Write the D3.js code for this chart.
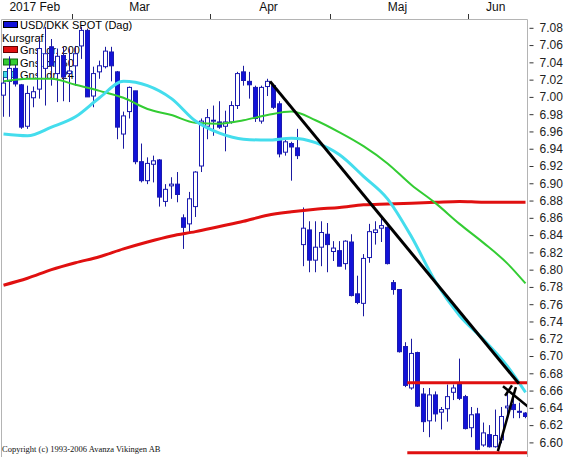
<!DOCTYPE html>
<html>
<head>
<meta charset="utf-8">
<script src="https://cdn.jsdelivr.net/npm/d3@7"></script>
<style>
  body { margin: 0; background: #fff; }
  svg { display: block; }
</style>
</head>
<body>
<div id="chart"></div>
<script>
// months shown on the top axis and how many trading days each has on the chart
const monthNames = ["2017 Feb", "Mar", "Apr", "Maj", "Jun"];
const monthDays = [12, 23, 20, 23, 10];

// daily candles, USD/DKK
const opens = [7.002, 7.018, 7.033, 7.014, 6.966, 6.999, 7.009, 7.033, 7.058, 7.027, 7.048, 7.027,
  7.036, 7.059, 7.077, 7.001, 7.029, 7.035, 7.052, 7.029, 6.957, 6.983, 7.007, 6.925, 6.903, 6.922,
  6.927, 6.879, 6.897, 6.899, 6.860, 6.853, 6.873, 6.920, 6.966,
  6.972, 6.971, 6.966, 6.971, 6.990, 7.029, 7.018, 7.011, 6.972, 7.012, 7.013, 6.992, 6.936, 6.946,
  6.941, 6.829, 6.846, 6.811, 6.826, 6.841,
  6.821, 6.822, 6.807, 6.832, 6.772, 6.761, 6.814, 6.843, 6.848, 6.849, 6.785, 6.777, 6.711, 6.663,
  6.704, 6.656, 6.625, 6.655, 6.635, 6.639, 6.658, 6.667, 6.653,
  6.617, 6.633, 6.597, 6.609, 6.595, 6.603, 6.640, 6.644, 6.636, 6.634];
const highs = [7.023, 7.047, 7.037, 7.015, 7.013, 7.012, 7.070, 7.081, 7.067, 7.056, 7.058, 7.056,
  7.059, 7.081, 7.079, 7.035, 7.042, 7.058, 7.058, 7.030, 6.983, 7.012, 7.007, 6.946, 6.930, 6.932,
  6.928, 6.899, 6.907, 6.913, 6.864, 6.890, 6.914, 6.975, 6.986,
  6.990, 6.995, 6.984, 6.995, 7.029, 7.036, 7.029, 7.013, 7.013, 7.021, 7.015, 6.995, 6.951, 6.948,
  6.963, 6.872, 6.856, 6.856, 6.856, 6.854,
  6.833, 6.833, 6.834, 6.841, 6.793, 6.818, 6.853, 6.856, 6.861, 6.850, 6.788, 6.777, 6.716, 6.720,
  6.705, 6.663, 6.663, 6.659, 6.641, 6.667, 6.667, 6.697, 6.655,
  6.641, 6.640, 6.623, 6.620, 6.638, 6.641, 6.661, 6.653, 6.646, 6.635];
const lows = [6.977, 6.977, 7.012, 6.963, 6.963, 6.988, 6.998, 6.990, 7.013, 6.994, 6.995, 6.994,
  7.013, 7.044, 7.000, 6.988, 7.021, 7.033, 7.018, 6.951, 6.940, 6.975, 6.922, 6.901, 6.899, 6.901,
  6.873, 6.873, 6.882, 6.878, 6.824, 6.843, 6.861, 6.913, 6.951,
  6.955, 6.963, 6.937, 6.969, 6.986, 7.013, 6.998, 6.971, 6.969, 7.001, 6.986, 6.930, 6.932, 6.903,
  6.928, 6.804, 6.797, 6.797, 6.804, 6.797,
  6.810, 6.804, 6.800, 6.769, 6.760, 6.746, 6.808, 6.829, 6.832, 6.806, 6.771, 6.704, 6.664, 6.661,
  6.641, 6.612, 6.606, 6.624, 6.615, 6.624, 6.649, 6.649, 6.615,
  6.606, 6.591, 6.595, 6.594, 6.594, 6.599, 6.632, 6.628, 6.628, 6.628];
const closes = [7.016, 7.033, 7.015, 6.965, 7.004, 7.006, 7.056, 7.050, 7.036, 7.047, 7.023, 7.030,
  7.050, 7.077, 7.000, 7.027, 7.036, 7.053, 7.036, 6.965, 6.978, 7.011, 6.925, 6.903, 6.923, 6.926,
  6.884, 6.893, 6.899, 6.887, 6.849, 6.882, 6.913, 6.972, 6.976,
  6.973, 6.965, 6.971, 6.990, 7.027, 7.019, 7.014, 6.975, 7.011, 7.018, 6.988, 6.934, 6.948, 6.942,
  6.932, 6.848, 6.811, 6.826, 6.843, 6.829,
  6.825, 6.804, 6.833, 6.770, 6.762, 6.813, 6.844, 6.846, 6.851, 6.807, 6.777, 6.705, 6.666, 6.703,
  6.642, 6.624, 6.655, 6.633, 6.638, 6.653, 6.663, 6.651, 6.616,
  6.632, 6.592, 6.611, 6.595, 6.608, 6.630, 6.642, 6.638, 6.635, 6.630];

// moving averages, read every 4th trading day
const maDays = [0, 4, 8, 12, 16, 20, 24, 28, 32, 36, 40, 44, 48, 52, 56, 60, 64, 68, 72, 76, 80, 84, 87];
const ma200 = [6.782, 6.790, 6.800, 6.808, 6.815, 6.824, 6.832, 6.839, 6.844, 6.850, 6.856, 6.863,
  6.867, 6.870, 6.872, 6.875, 6.876, 6.877, 6.878, 6.879, 6.878, 6.878, 6.878];
const ma50 = [7.018, 7.021, 7.021, 7.014, 7.007, 6.999, 6.986, 6.979, 6.970, 6.969, 6.973, 6.979,
  6.983, 6.973, 6.959, 6.943, 6.923, 6.898, 6.877, 6.853, 6.831, 6.807, 6.784];
const ma24 = [6.957, 6.955, 6.965, 6.977, 6.999, 7.018, 7.013, 6.998, 6.972, 6.958, 6.951, 6.950,
  6.952, 6.947, 6.933, 6.908, 6.882, 6.838, 6.786, 6.747, 6.719, 6.688, 6.658];

// drawn trend lines: [day, price] start and end
const trendStart = [[44.42, 7.018], [82.4, 6.590], [83.25, 6.665], [83.6, 6.654]];
const trendEnd = [[85.9, 6.668], [85.4, 6.664], [87.5, 6.641], [84.75, 6.666]];
// horizontal support / resistance
const levels = [6.669, 6.588];
const levelFrom = 67.3;

const yTicks = [7.08, 7.06, 7.04, 7.02, 7.00, 6.98, 6.96, 6.94, 6.92, 6.90, 6.88, 6.86, 6.84, 6.82,
  6.80, 6.78, 6.76, 6.74, 6.72, 6.70, 6.68, 6.66, 6.64, 6.62, 6.60];

const legendNames = ["USD/DKK SPOT (Dag)", "Kursgraf", "Gns. dr. 200", "Gns. dr. 50", "Gns. dr. 24"];

var sans = "Liberation Sans, Arial, sans-serif";
var width = 564, height = 457;
var plot = { left: 1, top: 19, right: 527, bottom: 457 };

var svg = d3.select("#chart").append("svg")
    .attr("width", width)
    .attr("height", height);

var x = d3.scaleLinear().domain([0, 87]).range([3.5, 525.5]);
var y = d3.scaleLinear().domain([6.60, 7.08]).range([442.4, 27.8]);

svg.append("clipPath").attr("id", "clip")
    .append("rect")
    .attr("x", plot.left).attr("y", plot.top)
    .attr("width", plot.right - plot.left).attr("height", plot.bottom - plot.top);

// frame
svg.append("path")
    .attr("d", "M" + (plot.left + 0.5) + "," + height + "V" + (plot.top + 0.5) + "H" + (plot.right + 0.5) + "V" + height)
    .attr("fill", "none")
    .attr("stroke", "#b4b4b4");

// month axis at top
var starts = [];
monthDays.reduce(function (acc, n) { starts.push(acc); return acc + n; }, 0);
var bounds = starts.map(function (s) { return x(s - 0.5); });
bounds.push(x(87.5));
var monthAxis = svg.append("g");
bounds.slice(1, -1).forEach(function (b) {
    monthAxis.append("line")
        .attr("x1", Math.floor(b) + 0.5).attr("x2", Math.floor(b) + 0.5)
        .attr("y1", 14).attr("y2", 19)
        .attr("stroke", "#333");
});
monthNames.forEach(function (m, i) {
    var a = Math.max(bounds[i], plot.left), b = Math.min(bounds[i + 1], plot.right);
    monthAxis.append("text")
        .attr("x", (a + b) / 2 - 2)
        .attr("y", 11)
        .attr("text-anchor", "middle")
        .style("font-family", sans)
        .style("font-size", "12px")
        .attr("fill", "#111")
        .text(m);
});

// price axis on the right
var yAxis = svg.append("g")
    .attr("transform", "translate(529.5,0)")
    .call(d3.axisRight(y).tickValues(yTicks).tickSize(4).tickPadding(6).tickFormat(d3.format(".2f")));
yAxis.select(".domain").remove();
yAxis.selectAll("line").attr("stroke", "#333");
yAxis.selectAll("text")
    .style("font-family", sans)
    .style("font-size", "12px")
    .attr("fill", "#222");

// legend (sits under the candles)
var legend = svg.append("g");
var legY = [25, 37.5, 50, 62.5, 75];
var swatch = [["#1212d8", "#000"], null, ["#e01010", "#600"], ["#33cc33", "#116611"], ["#44d8ec", "#117788"]];
legendNames.forEach(function (name, i) {
    var tx = 2;
    if (swatch[i]) {
        legend.append("rect")
            .attr("x", 3.5).attr("y", legY[i] - 3.5)
            .attr("width", 14).attr("height", 6)
            .attr("fill", swatch[i][0])
            .attr("stroke", swatch[i][1]);
        if (i > 2) {
            legend.append("line")
                .attr("x1", 10.5).attr("x2", 10.5)
                .attr("y1", legY[i] - 3).attr("y2", legY[i] + 3)
                .attr("stroke", swatch[i][1]);
        }
        tx = 20;
    }
    legend.append("text")
        .attr("x", tx).attr("y", legY[i] + 4)
        .style("font-family", sans)
        .style("font-size", "11px")
        .attr("fill", "#000")
        .text(name);
});

var chart = svg.append("g").attr("clip-path", "url(#clip)");

// candles
var days = d3.range(opens.length);
chart.selectAll(".wick")
    .data(days)
    .enter()
    .append("line")
    .attr("class", "wick")
    .attr("x1", function (d) { return x(d); })
    .attr("x2", function (d) { return x(d); })
    .attr("y1", function (d) { return y(highs[d]); })
    .attr("y2", function (d) { return y(lows[d]); })
    .attr("stroke", "#1a1aa0")
    .attr("stroke-width", 1);

chart.selectAll(".body")
    .data(days)
    .enter()
    .append("rect")
    .attr("class", "body")
    .attr("x", function (d) { return x(d) - 2; })
    .attr("width", 4)
    .attr("y", function (d) { return y(Math.max(opens[d], closes[d])); })
    .attr("height", function (d) { return Math.max(1, Math.abs(y(opens[d]) - y(closes[d]))); })
    .attr("fill", function (d) { return closes[d] >= opens[d] ? "#fff" : "#1212d8"; })
    .attr("stroke", "#1a1ab0")
    .attr("stroke-width", 1);

// moving averages
var maLine = d3.line()
    .x(function (d) { return x(d[0]); })
    .y(function (d) { return y(d[1]); })
    .curve(d3.curveMonotoneX);

[[ma200, "#e01010", 3], [ma50, "#33cc33", 2], [ma24, "#44dded", 3]].forEach(function (s) {
    chart.append("path")
        .datum(maDays.map(function (d, i) { return [d, s[0][i]]; }))
        .attr("d", maLine)
        .attr("fill", "none")
        .attr("stroke", s[1])
        .attr("stroke-width", s[2]);
});

// horizontal levels
chart.selectAll(".level")
    .data(levels)
    .enter()
    .append("line")
    .attr("class", "level")
    .attr("x1", x(levelFrom))
    .attr("x2", plot.right + 2)
    .attr("y1", function (d) { return y(d); })
    .attr("y2", function (d) { return y(d); })
    .attr("stroke", "#e01010")
    .attr("stroke-width", 3);

// trend lines
chart.selectAll(".trend")
    .data(trendStart)
    .enter()
    .append("line")
    .attr("class", "trend")
    .attr("x1", function (d) { return x(d[0]); })
    .attr("y1", function (d) { return y(d[1]); })
    .attr("x2", function (d, i) { return x(trendEnd[i][0]); })
    .attr("y2", function (d, i) { return y(trendEnd[i][1]); })
    .attr("stroke", "#000")
    .attr("stroke-width", function (d, i) { return i == 0 ? 3 : 2.5; });

// copyright
svg.append("text")
    .attr("x", 2)
    .attr("y", 452)
    .style("font-family", "Liberation Serif, Times New Roman, serif")
    .style("font-size", "8.5px")
    .attr("fill", "#111")
    .text("Copyright (c) 1993-2006 Avanza Vikingen AB");
</script>
</body>
</html>
